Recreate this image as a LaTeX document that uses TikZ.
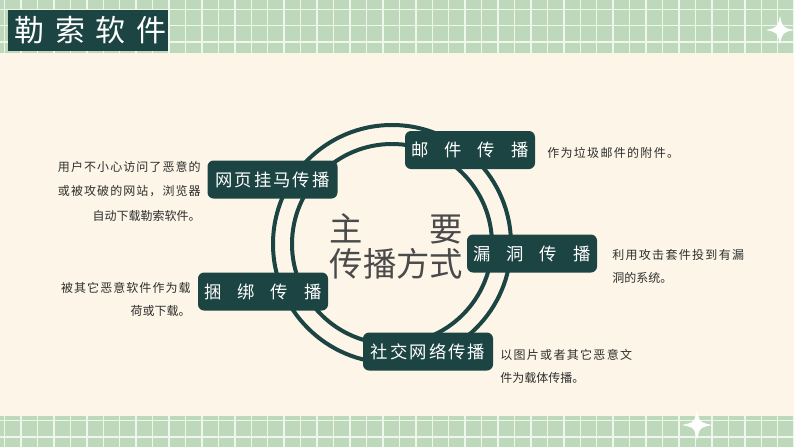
\documentclass[tikz,border=0pt]{standalone}
\usepackage{fontspec}
\setmainfont{Noto Sans CJK SC}
\definecolor{teal1}{HTML}{1C4442}
\definecolor{gridbg}{HTML}{BED8BB}
\definecolor{gridln}{HTML}{EFF7EC}
\definecolor{cream}{HTML}{FDF6E8}
\definecolor{txt}{HTML}{2E2E2E}
\definecolor{ctr}{HTML}{4A4A4A}
\newcommand\mystar[3]{%
  \fill[white] (#1,{#2-#3}) .. controls ({#1+0.18*#3},{#2-0.18*#3}) .. ({#1+#3},#2)
    .. controls ({#1+0.18*#3},{#2+0.18*#3}) .. (#1,{#2+#3})
    .. controls ({#1-0.18*#3},{#2+0.18*#3}) .. ({#1-#3},#2)
    .. controls ({#1-0.18*#3},{#2-0.18*#3}) .. cycle;}
\newcommand\lsp[2]{{\addfontfeature{LetterSpace=#1}#2}}
\tikzset{
  tag/.style={fill=teal1, rounded corners=4.5pt, text=white, minimum width=97.5pt,
    minimum height=28.5pt, inner sep=0pt, font=\fontsize{13pt}{13pt}\selectfont},
  titlebox/.style={fill=teal1, text=white, minimum width=120pt, minimum height=30.75pt,
    inner sep=0pt, font=\fontsize{22.5pt}{22.5pt}\selectfont},
  desc/.style={text=txt, inner sep=0pt, font=\fontsize{9pt}{17.5pt}\selectfont},
  ring/.style={draw=teal1, line width=3pt},
  gline/.style={draw=gridln, line width=1.1pt},
}
\begin{document}
\begin{tikzpicture}[x=0.75pt,y=-0.75pt]
\useasboundingbox (0,0) rectangle (794,447);
% background grid
\fill[gridbg] (0,0) rectangle (794,447);
\foreach \k in {0,...,48} \draw[gline] ({4.55+16.45*\k},0) -- ({4.55+16.45*\k},447);
\foreach \k in {-1,...,27} \draw[gline] (0,{9.3+16.45*\k}) -- (794,{9.3+16.45*\k});
\fill[cream] (0,53) rectangle (794,416);
\mystar{780}{30}{14}
\mystar{697}{425}{15}
% title
\node[titlebox] (title) at (88,30.5) {\hspace{4pt}勒\hspace{8pt}索\hspace{8pt}软\hspace{8pt}件};
% rings
\coordinate (c) at (392,244);
\draw[ring] (c) circle[radius=89.25pt];
\draw[ring] (c) circle[radius=75pt];
% centre text
\node[text=ctr, inner sep=0pt, align=center, font=\fontsize{25pt}{26.25pt}\selectfont] (centre) at (396.5,246.5) {主　　要\\传播方式};
% tags
\node[tag] (mail) at (470,150) {邮\hspace{12pt}件\hspace{12pt}传\hspace{12pt}播};
\node[tag] (web) at (272.5,179.5) {\lsp{12}{网页挂马传播}};
\node[tag] (vuln) at (532,253.5) {漏\hspace{12pt}洞\hspace{12pt}传\hspace{12pt}播};
\node[tag] (bundle) at (263,291.5) {捆\hspace{12pt}绑\hspace{12pt}传\hspace{12pt}播};
\node[tag] (social) at (428,351.5) {\lsp{12}{社交网络传播}};
% descriptions
\node[desc, anchor=west] (dmail) at (547,153) {\lsp{11}{作为垃圾邮件的附件。}};
\node[desc, align=right, anchor=north east, font=\fontsize{9pt}{18.4pt}\selectfont] (dweb) at (201,161)
  {\lsp{9}{用户不小心访问了恶意的}\\\lsp{9}{或被攻破的网站，浏览器}\\自动下载勒索软件。};
\node[desc, align=left, anchor=north west] (dvuln) at (612,249)
  {\lsp{11}{利用攻击套件投到有漏}\\洞的系统。};
\node[desc, align=right, anchor=north east] (dbundle) at (191,282)
  {\lsp{9}{被其它恶意软件作为载}\\荷或下载。};
\node[desc, align=left, anchor=north west] (dsocial) at (500,349)
  {\lsp{11}{以图片或者其它恶意文}\\件为载体传播。};
\end{tikzpicture}
\end{document}
